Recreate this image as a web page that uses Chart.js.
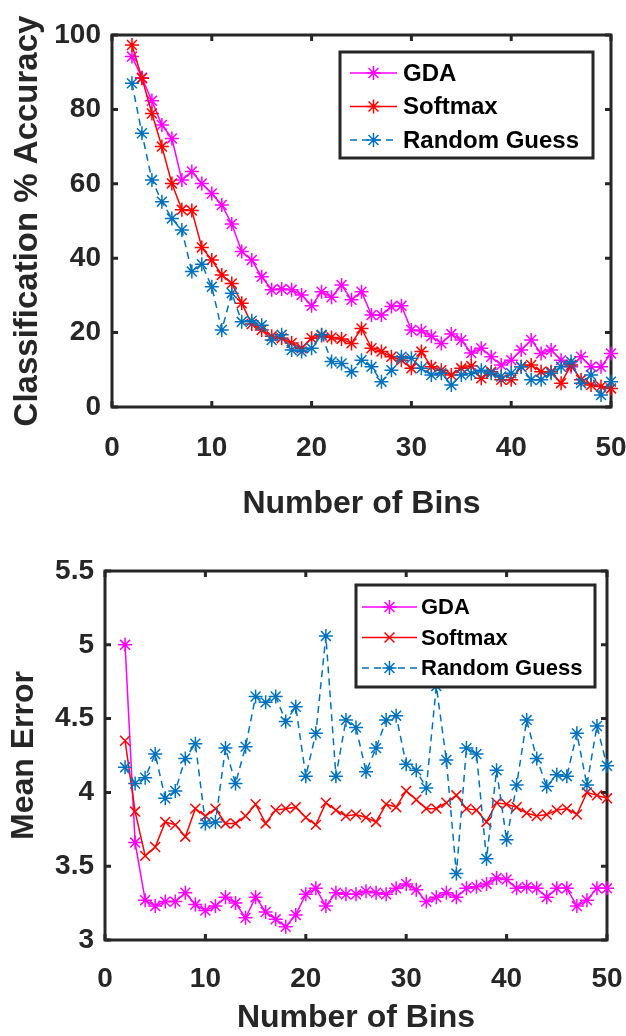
<!DOCTYPE html>
<html lang="en">
<head>
<meta charset="UTF-8" />
<title>Accuracy and Mean Error vs Number of Bins</title>
<script src="https://cdn.jsdelivr.net/npm/chart.js"></script>
<style>
  body { margin: 0; background: #fff; }
  canvas { display: block; }
</style>
</head>
<body>

<canvas id="accChart" width="626" height="518"></canvas>
<canvas id="errChart" width="626" height="518"></canvas>

<script>
// x values (number of bins)
const bins = [2, 3, 4, 5, 6, 7, 8, 9, 10, 11, 12, 13, 14, 15, 16, 17, 18, 19, 20, 21, 22, 23, 24, 25, 26,
              27, 28, 29, 30, 31, 32, 33, 34, 35, 36, 37, 38, 39, 40, 41, 42, 43, 44, 45, 46, 47, 48, 49, 50];

// top panel: classification % accuracy
const accGDA = [94.2, 88.5, 82.3, 75.8, 72.2, 61.0, 63.3, 60.1, 57.4, 54.3, 49.2, 41.8, 39.5, 35.0, 31.5, 31.7,
                31.5, 30.1, 27.2, 31.0, 29.5, 32.8, 28.8, 31.0, 24.7, 24.7, 27.0, 27.2, 20.7, 20.5, 19.0, 17.1,
                19.6, 18.0, 14.5, 15.8, 13.5, 11.3, 12.6, 15.3, 18.0, 14.4, 15.3, 12.6, 10.8, 13.5, 10.8, 10.8, 14.4];
const accSoftmax = [97.3, 88.4, 78.9, 70.0, 60.1, 53.0, 52.8, 42.9, 39.5, 35.5, 33.2, 27.9, 22.3, 20.7, 19.0, 18.5,
                    17.2, 15.8, 18.5, 19.2, 18.7, 18.3, 17.1, 21.1, 15.8, 14.9, 13.5, 12.6, 10.4, 14.9, 10.8, 9.9,
                    8.6, 10.4, 11.0, 7.7, 9.5, 7.3, 7.3, 10.8, 11.3, 9.5, 9.5, 6.4, 11.3, 7.3, 5.9, 5.5, 5.0];
const accRandom = [87.0, 73.6, 61.0, 55.2, 50.7, 47.6, 36.4, 38.4, 32.3, 20.7, 30.6, 22.9, 23.2, 22.0, 18.0, 19.4,
                   15.3, 14.9, 15.8, 19.4, 12.2, 11.7, 9.5, 12.6, 10.8, 6.8, 9.9, 13.5, 13.1, 10.4, 8.6, 9.1,
                   5.9, 8.6, 9.0, 9.9, 9.1, 8.2, 9.1, 10.8, 7.3, 7.3, 9.1, 10.8, 12.2, 6.4, 8.6, 3.2, 6.8];

// bottom panel: mean error
const errGDA = [5.00, 3.66, 3.27, 3.23, 3.26, 3.26, 3.32, 3.24, 3.20, 3.23, 3.29, 3.25, 3.15, 3.29, 3.19, 3.14,
                3.09, 3.17, 3.31, 3.35, 3.23, 3.32, 3.31, 3.31, 3.33, 3.32, 3.31, 3.35, 3.38, 3.34, 3.26, 3.29,
                3.32, 3.29, 3.35, 3.36, 3.38, 3.42, 3.41, 3.35, 3.36, 3.35, 3.29, 3.35, 3.35, 3.23, 3.27, 3.35, 3.35];
const errSoftmax = [4.35, 3.87, 3.57, 3.63, 3.80, 3.78, 3.70, 3.89, 3.84, 3.89, 3.79, 3.79, 3.84, 3.92, 3.79, 3.88,
                    3.89, 3.90, 3.83, 3.78, 3.93, 3.88, 3.84, 3.85, 3.83, 3.80, 3.92, 3.90, 4.01, 3.95, 3.89, 3.89,
                    3.93, 3.98, 3.89, 3.88, 3.80, 3.93, 3.92, 3.90, 3.86, 3.84, 3.85, 3.88, 3.89, 3.85, 4.00, 3.98, 3.96];
const errRandom = [4.17, 4.06, 4.10, 4.26, 3.96, 4.01, 4.23, 4.33, 3.79, 3.80, 4.30, 4.06, 4.31, 4.65, 4.61, 4.65,
                   4.48, 4.58, 4.11, 4.40, 5.06, 4.11, 4.49, 4.44, 4.14, 4.30, 4.49, 4.52, 4.19, 4.15, 4.03, 4.72,
                   4.22, 3.45, 4.30, 4.26, 3.55, 4.15, 3.68, 4.05, 4.49, 4.23, 4.04, 4.12, 4.11, 4.40, 4.05, 4.45, 4.18];

// tick labels
const binTicks = [0, 10, 20, 30, 40, 50];
const accTicks = [0, 20, 40, 60, 80, 100];
const errTicks = [3, 3.5, 4, 4.5, 5, 5.5];

const seriesNames = ['GDA', 'Softmax', 'Random Guess'];

const INK = '#262626';
const FONT = '"Liberation Sans", Arial, sans-serif';
const MAGENTA = '#ff00ff', RED = '#ff0000', BLUE = '#0072bd';

function toXY(values) {
  return values.map((v, i) => ({ x: bins[i], y: v }));
}

function series(label, values, color, style, order, dash) {
  return {
    label: label,
    data: toXY(values),
    borderColor: color,
    backgroundColor: color,
    pointBorderColor: color,
    pointBackgroundColor: color,
    borderWidth: 1.5,
    pointBorderWidth: 1.5,
    pointStyle: style,
    pointRadius: 7,
    borderDash: dash || [],
    tension: 0,
    clip: false,
    order: order
  };
}

// MATLAB-like box with inward ticks
const boxAxes = {
  id: 'boxAxes',
  beforeDatasetsDraw(chart) {
    const { ctx, chartArea: a, scales } = chart;
    const tick = 6;
    ctx.save();
    ctx.strokeStyle = INK;
    ctx.lineWidth = 3;
    ctx.beginPath();
    scales.x.ticks.forEach(t => {
      const px = scales.x.getPixelForValue(t.value);
      ctx.moveTo(px, a.bottom); ctx.lineTo(px, a.bottom - tick);
      ctx.moveTo(px, a.top); ctx.lineTo(px, a.top + tick);
    });
    scales.y.ticks.forEach(t => {
      const py = scales.y.getPixelForValue(t.value);
      ctx.moveTo(a.left, py); ctx.lineTo(a.left + tick, py);
      ctx.moveTo(a.right, py); ctx.lineTo(a.right - tick, py);
    });
    ctx.stroke();
    ctx.strokeRect(a.left, a.top, a.right - a.left, a.bottom - a.top);
    ctx.restore();
  }
};

// legend box drawn inside the axes, line sample + marker
const boxLegend = {
  id: 'boxLegend',
  afterDatasetsDraw(chart, args, o) {
    const { ctx, chartArea: a } = chart;
    const left = a.right - o.right - o.width;
    const top = a.top + o.top;
    ctx.save();
    ctx.fillStyle = '#fff';
    ctx.fillRect(left, top, o.width, o.height);
    ctx.strokeStyle = INK;
    ctx.lineWidth = 3;
    ctx.strokeRect(left, top, o.width, o.height);
    chart.data.datasets.forEach((ds, i) => {
      const cy = top + o.first + i * o.row;
      ctx.strokeStyle = ds.borderColor;
      ctx.fillStyle = ds.borderColor;
      ctx.lineWidth = ds.borderWidth;
      ctx.setLineDash(ds.borderDash);
      ctx.beginPath();
      ctx.moveTo(left + o.lineStart, cy);
      ctx.lineTo(left + o.lineEnd, cy);
      ctx.stroke();
      ctx.setLineDash([]);
      Chart.helpers.drawPoint(ctx, {
        pointStyle: ds.pointStyle, radius: ds.pointRadius, borderWidth: ds.pointBorderWidth, rotation: 0
      }, left + (o.lineStart + o.lineEnd) / 2, cy);
      ctx.fillStyle = '#000';
      ctx.font = 'bold ' + o.size + 'px ' + FONT;
      ctx.textBaseline = 'middle';
      ctx.textAlign = 'left';
      ctx.fillText(ds.label, left + o.text, cy + 1);
    });
    ctx.restore();
  }
};

function makeChart(id, datasets, yTicks, yTitle, lay) {
  return new Chart(document.getElementById(id), {
    type: 'line',
    data: { datasets: datasets },
    plugins: [boxAxes, boxLegend],
    options: {
      responsive: false,
      animation: false,
      devicePixelRatio: 1,
      layout: { padding: { top: lay.top, right: lay.right, left: 0, bottom: 0 } },
      scales: {
        x: {
          type: 'linear',
          min: binTicks[0],
          max: binTicks[binTicks.length - 1],
          afterBuildTicks: s => { s.ticks = binTicks.map(v => ({ value: v })); },
          afterFit: s => { s.height = lay.xHeight; s.paddingLeft = 0; s.paddingRight = 0; },
          grid: { display: false, drawTicks: false },
          border: { display: false },
          ticks: {
            color: INK, padding: lay.xPad, maxRotation: 0,
            font: { family: FONT, size: 28, weight: 'bold' },
            callback: v => String(v)
          },
          title: {
            display: true, text: 'Number of Bins', color: INK,
            font: { family: FONT, size: 32, weight: 'bold', lineHeight: 1 },
            padding: { top: 0, bottom: lay.xTitlePad }
          }
        },
        y: {
          type: 'linear',
          min: yTicks[0],
          max: yTicks[yTicks.length - 1],
          afterBuildTicks: s => { s.ticks = yTicks.map(v => ({ value: v })); },
          afterFit: s => { s.width = lay.yWidth; s.paddingTop = 0; s.paddingBottom = 0; },
          grid: { display: false, drawTicks: false },
          border: { display: false },
          ticks: {
            color: INK, padding: 11,
            font: { family: FONT, size: 28, weight: 'bold' },
            callback: v => String(v)
          },
          title: {
            display: true, text: yTitle, color: INK,
            font: { family: FONT, size: lay.ySize, weight: 'bold', lineHeight: 1 },
            padding: { top: lay.yTitlePad, bottom: 0 }
          }
        }
      },
      plugins: {
        legend: { display: false },
        tooltip: { enabled: false },
        boxLegend: lay.legend
      }
    }
  });
}

makeChart('accChart', [
  series(seriesNames[0], accGDA, MAGENTA, 'star', 2),
  series(seriesNames[1], accSoftmax, RED, 'star', 1),
  series(seriesNames[2], accRandom, BLUE, 'star', 0, [7, 5])
], accTicks, 'Classification % Accuracy', {
  top: 35, right: 15, yWidth: 112, xHeight: 111, xPad: 24, xTitlePad: -2, ySize: 33, yTitlePad: 11,
  legend: { right: 18, top: 17, width: 253, height: 106, first: 21, row: 33.5, lineStart: 10, lineEnd: 57, text: 63, size: 24 }
});

makeChart('errChart', [
  series(seriesNames[0], errGDA, MAGENTA, 'star', 2),
  series(seriesNames[1], errSoftmax, RED, 'crossRot', 1),
  series(seriesNames[2], errRandom, BLUE, 'star', 0, [7, 5])
], errTicks, 'Mean Error', {
  top: 53, right: 19, yWidth: 105, xHeight: 96, xPad: 22, xTitlePad: 2, ySize: 32, yTitlePad: 8,
  legend: { right: 12, top: 14, width: 239, height: 102, first: 22, row: 30.5, lineStart: 6, lineEnd: 61, text: 65, size: 22 }
});
</script>
</body>
</html>
